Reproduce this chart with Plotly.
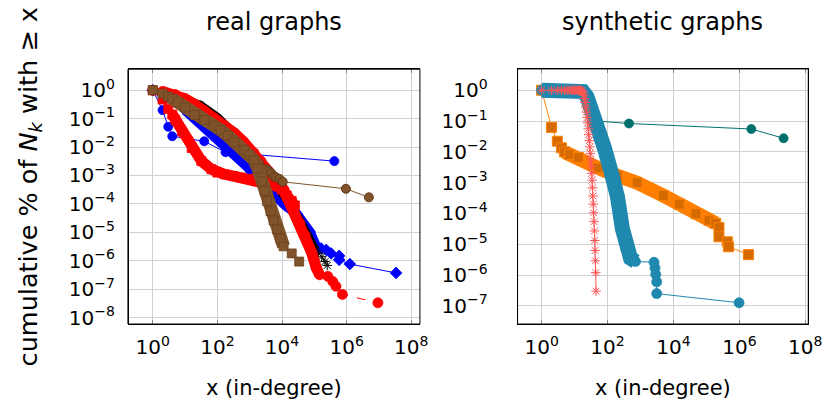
import plotly.graph_objects as go

# ---------------- data: real graphs (left) ----------------
blue_circ_x = [1, 2, 3, 4, 39, 178, 417000]
blue_circ_y = [1, 0.2, 0.052, 0.024, 0.016, 0.0066, 0.0032]

blue_dia_x = [1, 2, 4, 10, 32, 102, 331, 851, 1350, 3160, 6310, 12600, 28200, 72400, 115000,
              162000, 234000, 331000, 589000, 589000, 1260000, 34000000]
blue_dia_y = [1, 0.71, 0.45, 0.2, 0.063, 0.02, 0.0063, 0.002, 0.0011, 4.0e-4, 1.78e-4, 8.9e-5,
              4.5e-5, 1.02e-5, 3.1e-6, 2.7e-6, 2.4e-6, 1.8e-6, 1.48e-6, 1.07e-6, 7.6e-7, 3.7e-7]

black_x = [1, 3.2, 10, 29, 100, 316, 1000, 3160, 6310, 11200, 20000, 35500, 63100, 107000,
           135000, 170000, 214000, 251000]
black_y = [1, 0.63, 0.45, 0.30, 0.11, 0.035, 0.0089, 0.0016, 5.6e-4, 2.2e-4, 7.9e-5, 2.5e-5,
           7.1e-6, 2.3e-6, 1.8e-6, 1.38e-6, 9.3e-7, 6.8e-7]

red_sq_x = [1, 2, 3, 4, 5, 8, 16, 32, 65, 100, 166, 316, 537, 1000, 1350, 2750, 5000, 6900,
            10000, 14100, 20000, 25100]
red_sq_y = [1, 0.47, 0.22, 0.14, 0.091, 0.035, 0.0093, 0.0032, 0.00166, 0.00126, 0.0011, 9.5e-4,
            8.5e-4, 7.6e-4, 7.1e-4, 5.75e-4, 4.8e-4, 4.2e-4, 3.2e-4, 1.95e-4, 1.26e-4, 8.7e-5]

red_circ_x = [1, 2, 4.9, 10, 20, 40, 81, 158, 331, 631, 1350, 2240, 3890, 6310, 11200, 15800,
              22900, 35500, 51300, 81300, 115000, 145000, 263000, 372000, 468000, 741000, 9300000]
red_circ_y = [1, 0.91, 0.71, 0.5, 0.32, 0.19, 0.105, 0.06, 0.0316, 0.0158, 0.0063, 0.0032,
              0.0014, 7.1e-4, 3.2e-4, 1.4e-4, 5.5e-5, 2.1e-5, 7.9e-6, 2.04e-6, 5.6e-7, 3.2e-7,
              2.8e-7, 1.86e-7, 1.26e-7, 6.5e-8, 3.3e-8]

brown_circ_x = [1, 3, 10, 30, 100, 300, 1000, 2000, 3470, 4000, 4600, 5500, 6500, 8300, 10500,
                950000, 4900000]
brown_circ_y = [1, 0.6, 0.25, 0.1, 0.045, 0.016, 0.0055, 0.0025, 0.00166, 0.0014, 0.0012,
                9.5e-4, 8.6e-4, 7.6e-4, 6.0e-4, 3.4e-4, 1.7e-4]

brown_sq_x = [1, 2, 3, 4, 6, 10, 20, 40, 80, 126, 210, 330, 680, 1000, 1350, 1780, 2400, 2900,
              3470, 4400, 5500, 7100, 8900, 11200, 20000, 34000]
brown_sq_y = [1, 0.76, 0.6, 0.5, 0.38, 0.25, 0.135, 0.089, 0.056, 0.04, 0.025, 0.0148, 0.0078,
              0.0054, 0.0035, 0.0018, 6.3e-4, 2.8e-4, 1.26e-4, 5.6e-5, 2.6e-5, 1.26e-5, 6.0e-6,
              3.2e-6, 1.8e-6, 9.3e-7]

# ---------------- data: synthetic graphs (right) ----------------
teal_x = [1, 2, 3, 5, 8, 12, 16, 18, 45, 447, 2300000, 22000000]
teal_y = [1, 1, 1, 1, 0.99, 0.98, 0.96, 0.93, 0.1, 0.083, 0.055, 0.0275]

orange_x = [1, 2, 3, 4, 5, 7, 13, 51, 200, 790, 4900, 15000, 48000, 120000, 190000, 240000,
            240000, 430000, 470000, 1900000]
orange_y = [1, 0.062, 0.022, 0.0135, 0.0098, 0.0081, 0.0065, 0.003, 0.00166, 0.001, 3.8e-4,
            2.0e-4, 9.8e-5, 6.0e-5, 4.8e-5, 3.5e-5, 1.74e-5, 1.2e-5, 8.3e-6, 4.6e-6]

lblue_x = [1, 2, 3, 5, 8, 12, 18, 24, 32, 51, 80, 126, 158, 200, 282, 355, 500, 705,
           2570, 2750, 2900, 3100, 3100, 980000]
lblue_y = [1, 1, 1, 1, 1, 0.99, 0.9, 0.6, 0.26, 0.076, 0.0135, 0.0024, 0.001, 3.5e-4, 3.2e-5,
           7.4e-6, 3.5e-6, 2.75e-6, 2.6e-6, 1.7e-6, 1.05e-6, 6.0e-7, 2.5e-7, 1.26e-7]

salmon_x = list(range(1, 46))
salmon_y = [1, 1, 1, 1, 1, 1, 1, 1, 1, 1, 1, 0.998, 0.995, 0.99, 0.98, 0.96, 0.92,
            0.83, 0.69, 0.54, 0.40, 0.28, 0.195, 0.13, 0.087, 0.056, 0.036, 0.023, 0.0145,
            0.0089, 0.0055, 0.0034, 0.002, 0.0012, 6.8e-4, 3.7e-4, 2.0e-4, 1.05e-4, 5.4e-5,
            2.7e-5, 1.32e-5, 6.3e-6, 2.9e-6, 1.2e-6, 3.0e-7]

x_ticks = [1, 1e2, 1e4, 1e6, 1e8]
x_ticktext = ["10<sup>0</sup>", "10<sup>2</sup>", "10<sup>4</sup>", "10<sup>6</sup>", "10<sup>8</sup>"]
yL_ticks = [1, 1e-1, 1e-2, 1e-3, 1e-4, 1e-5, 1e-6, 1e-7, 1e-8]
yL_ticktext = ["10<sup>0</sup>"] + ["10<sup>\u2212%d</sup>" % k for k in range(1, 9)]
yR_ticks = yL_ticks[:8]
yR_ticktext = yL_ticktext[:8]

FONT = "DejaVu Sans"
W, H = 830, 404

fig = go.Figure()


def band(x, y, i0, i1, color, width, xa, ya):
    fig.add_trace(go.Scatter(x=x[i0:i1], y=y[i0:i1], mode="lines", xaxis=xa, yaxis=ya,
                             line=dict(color=color, width=width), hoverinfo="skip",
                             showlegend=False))


def pts(x, y, color, symbol, size, xa, ya, i0=0, i1=None, lw=1, dash="solid",
        fill=None, mline=None, mlw=0.8, lines=True):
    fig.add_trace(go.Scatter(x=x[i0:i1], y=y[i0:i1], mode="lines+markers" if lines else "markers",
                             xaxis=xa, yaxis=ya,
                             line=dict(color=color, width=lw, dash=dash),
                             marker=dict(symbol=symbol, size=size, color=fill or color,
                                         line=dict(color=mline or color, width=mlw)),
                             showlegend=False))


BLUE = "#0000ff"
RED = "#ff0000"
BROWN = "#80532a"
BLACK = "#000000"

# left: bottom to top
pts(blue_circ_x, blue_circ_y, BLUE, "circle", 9, "x", "y")
band(blue_dia_x, blue_dia_y, 3, 15, BLUE, 10, "x", "y")
pts(blue_dia_x, blue_dia_y, BLUE, "diamond", 9, "x", "y")
band(black_x, black_y, 1, 14, BLACK, 9, "x", "y")
pts(black_x, black_y, BLACK, "asterisk-open", 8, "x", "y", mlw=1)
band(red_sq_x, red_sq_y, 3, 22, RED, 11, "x", "y")
pts(red_sq_x, red_sq_y, RED, "square", 9, "x", "y")
band(red_circ_x, red_circ_y, 1, 22, RED, 11, "x", "y")
pts(red_circ_x, red_circ_y, RED, "circle", 10, "x", "y", i1=21, lines=False)
pts(red_circ_x, red_circ_y, RED, "circle", 10, "x", "y", i0=20, dash="dash")
pts(brown_circ_x, brown_circ_y, BROWN, "circle", 9, "x", "y", mline="#5e3b1c", mlw=1)
band(brown_sq_x, brown_sq_y, 3, 24, BROWN, 13, "x", "y")
pts(brown_sq_x, brown_sq_y, BROWN, "square", 9, "x", "y", mline="#6b4420")

TEAL = "#00706e"
ORANGE = "#ff8000"
LBLUE = "#1f88ae"
SALMON = "#ff5555"

# right: bottom to top
pts(teal_x, teal_y, TEAL, "circle", 9, "x2", "y2")
band(orange_x, orange_y, 4, 15, ORANGE, 14, "x2", "y2")
pts(orange_x, orange_y, ORANGE, "square", 10, "x2", "y2", fill="#d46a00", mline=ORANGE, mlw=1)
band(lblue_x, lblue_y, 0, 18, LBLUE, 15, "x2", "y2")
pts(lblue_x, lblue_y, LBLUE, "circle", 10, "x2", "y2")
pts(salmon_x, salmon_y, SALMON, "asterisk-open", 8, "x2", "y2", mlw=1)

GRID = "#d0d0d0"
TICKC = "#888888"
TFONT = dict(family=FONT, size=20, color="black")


def xaxis(dom, rng, anchor):
    return dict(domain=dom, type="log", range=rng, tickvals=x_ticks, ticktext=x_ticktext,
                anchor=anchor, showgrid=True, gridcolor=GRID, gridwidth=1, zeroline=False,
                showline=True, linecolor="black", linewidth=1, mirror="allticks",
                ticks="inside", ticklen=4, tickcolor=TICKC, tickfont=TFONT, ticklabelstandoff=5)


def yaxis(dom, rng, tv, tt, gap, **kw):
    # transparent outside ticks set the label gap
    d = dict(domain=dom, type="log", range=rng, tickvals=tv, ticktext=tt,
             showgrid=True, gridcolor=GRID, gridwidth=1, zeroline=False,
             showline=True, linecolor="black", linewidth=1, mirror=True,
             ticks="outside", ticklen=gap, tickcolor="rgba(0,0,0,0)", tickfont=TFONT)
    d.update(kw)
    return d


domL_x = [122 / W, 419 / W]
domR_x = [518.3 / W, 814 / W]
domL_y = [1 - 320 / H, 1 - 62 / H]
domR_y = [1 - 320 / H, 1 - 61.7 / H]

frame = dict(type="rect", line=dict(color="black", width=1), fillcolor="rgba(0,0,0,0)",
             x0=0, x1=1, y0=0, y1=1, layer="above")

fig.update_layout(
    width=W, height=H, margin=dict(l=0, r=0, t=0, b=0),
    paper_bgcolor="white", plot_bgcolor="white", showlegend=False,
    font=dict(family=FONT, color="black"),
    xaxis=xaxis(domL_x, [-0.77, 8.27], "y"),
    yaxis=yaxis(domL_y, [-8.23, 0.74], yL_ticks, yL_ticktext, 9, anchor="free",
                position=domL_x[0]),
    xaxis2=xaxis(domR_x, [-0.73, 8.09], "y2"),
    yaxis2=yaxis(domR_y, [-7.59, 0.69], yR_ticks, yR_ticktext, 25, anchor="x2"),
    shapes=[dict(frame, xref="x domain", yref="y domain"),
            dict(frame, xref="x2 domain", yref="y2 domain")],
    annotations=[
        dict(text="real graphs", x=270.5 / W, y=1 - 14 / H, xref="paper", yref="paper",
             xanchor="center", yanchor="middle", showarrow=False, font=dict(size=24, family=FONT)),
        dict(text="synthetic graphs", x=666 / W, y=1 - 14 / H, xref="paper", yref="paper",
             xanchor="center", yanchor="middle", showarrow=False, font=dict(size=24, family=FONT)),
        dict(text="x (in-degree)", x=270.5 / W, y=1 - 385 / H, xref="paper", yref="paper",
             xanchor="center", yanchor="middle", showarrow=False, font=dict(size=21, family=FONT)),
        dict(text="x (in-degree)", x=666 / W, y=1 - 385 / H, xref="paper", yref="paper",
             xanchor="center", yanchor="middle", showarrow=False, font=dict(size=21, family=FONT)),
        dict(text="cumulative % of <i>N</i><sub><i>k</i></sub> with \u2265 x", textangle=-90,
             x=22 / W, y=1 - 181 / H, xref="paper", yref="paper",
             xanchor="center", yanchor="middle", showarrow=False, font=dict(size=25.5, family=FONT)),
    ],
)

fig.write_html("out.html")
